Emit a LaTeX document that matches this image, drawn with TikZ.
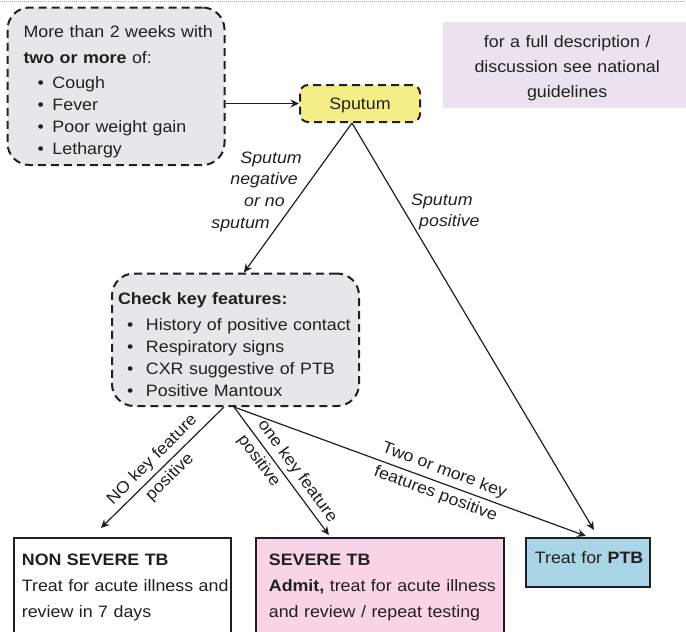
\documentclass[tikz,border=0pt]{standalone}
\usepackage{fontspec}
\setmainfont{Liberation Sans}[FakeStretch=1.08]
\usetikzlibrary{arrows.meta}

\definecolor{ink}{RGB}{35,31,32}
\definecolor{greyfill}{RGB}{230,231,232}
\definecolor{sputumfill}{RGB}{243,238,134}
\definecolor{notefill}{RGB}{236,226,239}
\definecolor{severefill}{RGB}{248,212,230}
\definecolor{ptbfill}{RGB}{169,213,230}

% bullet with given indent and bullet-column width
\newcommand\itm[2]{\hspace*{#1}\makebox[#2][l]{•}}
% invisible struts that fix the first line's height and the last line's depth
\newcommand\hstrut[1]{\rule{0pt}{#1}}
\newcommand\dstrut[1]{\rule[-#1]{0pt}{#1}}

\begin{document}
\begin{tikzpicture}[x=1pt,y=-1pt,
  font=\fontsize{16.5}{22}\selectfont, text=ink,
  dashbox/.style={draw=ink, line width=2pt, dash pattern=on 8pt off 5pt,
    fill=greyfill, inner sep=0pt, anchor=north west, align=left},
  solidbox/.style={draw=ink, line width=1.8pt, inner sep=0pt,
    anchor=north west, align=left},
  flow/.style={draw=ink, line width=1.2pt,
    -{Stealth[length=8.5pt,width=8pt,inset=2.8pt]}},
  edgelabel/.style={inner sep=0pt},
  caption/.style={font=\fontsize{16.5}{21.7}\selectfont\itshape, inner sep=0pt}]

\useasboundingbox (0,0) rectangle (686,632);
\clip (0,0) rectangle (686,632);

% dotted rule along the top edge
\draw[gray!70, line width=0.8pt, dash pattern=on 1pt off 1pt] (0,1) -- (686,1);

% symptoms
\node[dashbox, rounded corners=22pt, text width=185pt, inner xsep=16pt]
  (symptoms) at (6.5,6.5) {%
\hstrut{29.5pt}\mbox{More than 2 weeks with}\\[4pt]
\mbox{\textbf{two or more} of:}\\[3pt]
\mbox{\itm{14pt}{15pt}Cough}\\
\mbox{\itm{14pt}{15pt}Fever}\\
\mbox{\itm{14pt}{15pt}Poor weight gain}\\
\mbox{\itm{14pt}{15pt}Lethargy}\dstrut{11pt}};

% sputum test
\node[dashbox, fill=sputumfill, rounded corners=8pt, minimum width=120pt,
  minimum height=37pt, anchor=center, align=center,
  text height=12pt, text depth=0pt] (sputum) at (360,103.5) {Sputum};

% reference note
\node[fill=notefill, inner sep=0pt, anchor=north west, text width=248pt,
  align=center, font=\fontsize{16.5}{25}\selectfont] (note) at (443,22)
  {\hstrut{25pt}for a full description /\\discussion see national\\guidelines\dstrut{11pt}};

% key features
\node[dashbox, rounded corners=22pt, text width=235pt, inner xsep=6pt]
  (check) at (111,272.5) {%
\hstrut{30.5pt}\mbox{\textbf{Check key features:}}\\[4pt]
\mbox{\itm{9pt}{19pt}History of positive contact}\\
\mbox{\itm{9pt}{19pt}Respiratory signs}\\
\mbox{\itm{9pt}{19pt}CXR suggestive of PTB}\\
\mbox{\itm{9pt}{19pt}Positive Mantoux}\dstrut{10pt}};

% outcomes
\node[solidbox, fill=white, text width=201pt, inner xsep=8pt]
  (nonsevere) at (13,537) {%
\hstrut{28pt}\mbox{\textbf{NON SEVERE TB}}\\[4pt]
\mbox{Treat for acute illness and}\\[4pt]
\mbox{review in 7 days}\dstrut{45pt}};

\node[solidbox, fill=severefill, text width=222pt, inner xsep=13pt]
  (severe) at (255,537) {%
\hstrut{28pt}\mbox{\textbf{SEVERE TB}}\\[4pt]
\mbox{\textbf{Admit,} treat for acute illness}\\[4pt]
\mbox{and review / repeat testing}\dstrut{45pt}};

\node[solidbox, fill=ptbfill, text width=106pt, inner xsep=9pt]
  (ptb) at (525,537) {\hstrut{26pt}\mbox{Treat for \textbf{PTB}}\dstrut{23pt}};

% connectors
\draw[flow] (sputum.west -| symptoms.east) -- (sputum.west);
\draw[flow] ([xshift=-8pt]sputum.south) -- ([xshift=8.5pt]check.north);
\draw[flow] ([xshift=-8pt]sputum.south) -- ([xshift=6pt,yshift=7pt]ptb.north);

\draw[flow] ([xshift=-11.5pt]check.south)
  -- node[edgelabel, pos=.51, rotate=45, align=center] (lblnone)
     {NO key feature\\[3pt]positive}
  ([xshift=-21.5pt,yshift=9pt]nonsevere.north);
\draw[flow] ([xshift=-1.5pt]check.south)
  -- node[edgelabel, pos=.56, rotate=-53.8, align=left] (lblone)
     {one key feature\\[3pt]positive}
  ([xshift=-51pt,yshift=2pt]severe.north);
\draw[flow] ([xshift=-1.5pt]check.south)
  -- node[edgelabel, pos=.585, rotate=-20.4, align=center] (lblmany)
     {Two or more key\\[3pt]features positive}
  ([xshift=-2pt,yshift=1pt]ptb.north);

% sputum result captions
\node[caption, anchor=north east, align=right] (negcap) at (302,150)
  {\hstrut{13pt}Sputum\\\mbox{negative\hspace*{4pt}}\\\mbox{or no\hspace*{17pt}}\\\mbox{sputum\hspace*{32pt}}};
\node[caption, anchor=north west, align=left] (poscap) at (411,192)
  {\hstrut{13pt}Sputum\\\mbox{\hspace*{8pt}positive}};

\end{tikzpicture}
\end{document}
